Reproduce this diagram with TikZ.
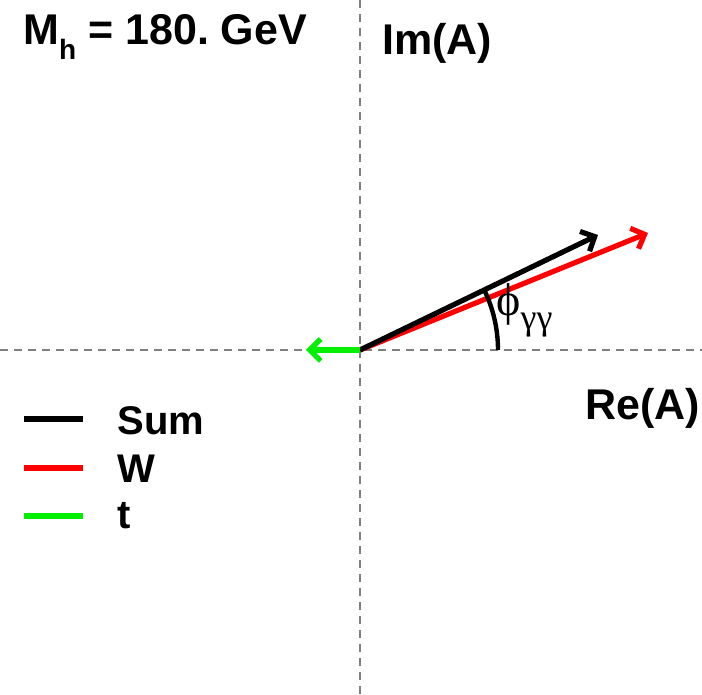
\documentclass[tikz,border=0pt]{standalone}
\usepackage{fontspec}
\setmainfont{Liberation Sans}
\newfontfamily\greekfont{Liberation Serif}
\usetikzlibrary{arrows.meta}
\tikzstyle{axis} = [gray, line width=0.8pt, dash pattern=on 4pt off 3pt]
\tikzstyle{vec} = [line width=2.6pt, -{Straight Barb[length=5.5pt, width=11pt, line width=2.6pt]}]
\tikzstyle{key} = [line width=2.6pt]
\tikzstyle{lbl} = [inner sep=0, anchor=base west, font=\bfseries\fontsize{21.5}{24}\selectfont]
\tikzstyle{keylbl} = [inner sep=0, anchor=base west, font=\bfseries\fontsize{20}{24}\selectfont]
\definecolor{wred}{RGB}{255,0,0}
\definecolor{tgreen}{RGB}{0,240,0}

\begin{document}
\frenchspacing
\begin{tikzpicture}[x=0.5pt, y=0.5pt]
        \useasboundingbox (-360,-345) rectangle (342,350);

        % --- Ejes ---
        \coordinate (O) at (0,0);
        \coordinate (imtop) at (0,350);
        \coordinate (imbot) at (0,-345);
        \coordinate (releft) at (-360,0);
        \coordinate (reright) at (342,0);
        \draw [axis] (imtop) -- (imbot);
        \draw [axis] (releft) -- (reright);

        % --- Amplitudes ---
        \coordinate (sumtip) at (238,115);
        \coordinate (wtip) at (288,117);
        \coordinate (ttip) at (-54,0);
        \draw [vec, wred] (O) -- (wtip);
        \draw [vec, black] (O) -- (sumtip);
        \draw [vec, tgreen] (O) -- (ttip);

        % --- Fase ---
        \draw [line width=2.2pt] (138,0) arc (0:25.8:138);
        \node (phase) [inner sep=0, anchor=base west] at (136,34)
            {\greekfont\fontsize{23}{24}\selectfont ϕ\raisebox{-0.3em}{\fontsize{18}{18}\selectfont γγ}};

        % --- Etiquetas ---
        \node (mass) [lbl] at (-337,305) {M\raisebox{-7.5pt}{\fontsize{14}{14}\selectfont h} = 180. GeV};
        \node (imlbl) [lbl] at (22,295) {Im(A)};
        \node (relbl) [lbl] at (225,-70) {Re(A)};

        % --- Leyenda ---
        \coordinate (sumA) at (-336,-69);
        \coordinate (sumB) at (-277,-69);
        \coordinate (wA) at (-336,-118);
        \coordinate (wB) at (-277,-118);
        \coordinate (tA) at (-336,-166);
        \coordinate (tB) at (-277,-166);
        \draw [key, black] (sumA) -- (sumB);
        \draw [key, wred] (wA) -- (wB);
        \draw [key, tgreen] (tA) -- (tB);
        \node (sumlbl) [keylbl] at (-243,-85) {Sum};
        \node (wlbl) [keylbl] at (-243,-133) {W};
        \node (tlbl) [keylbl] at (-243,-179) {t};

    \end{tikzpicture}
\end{document}
